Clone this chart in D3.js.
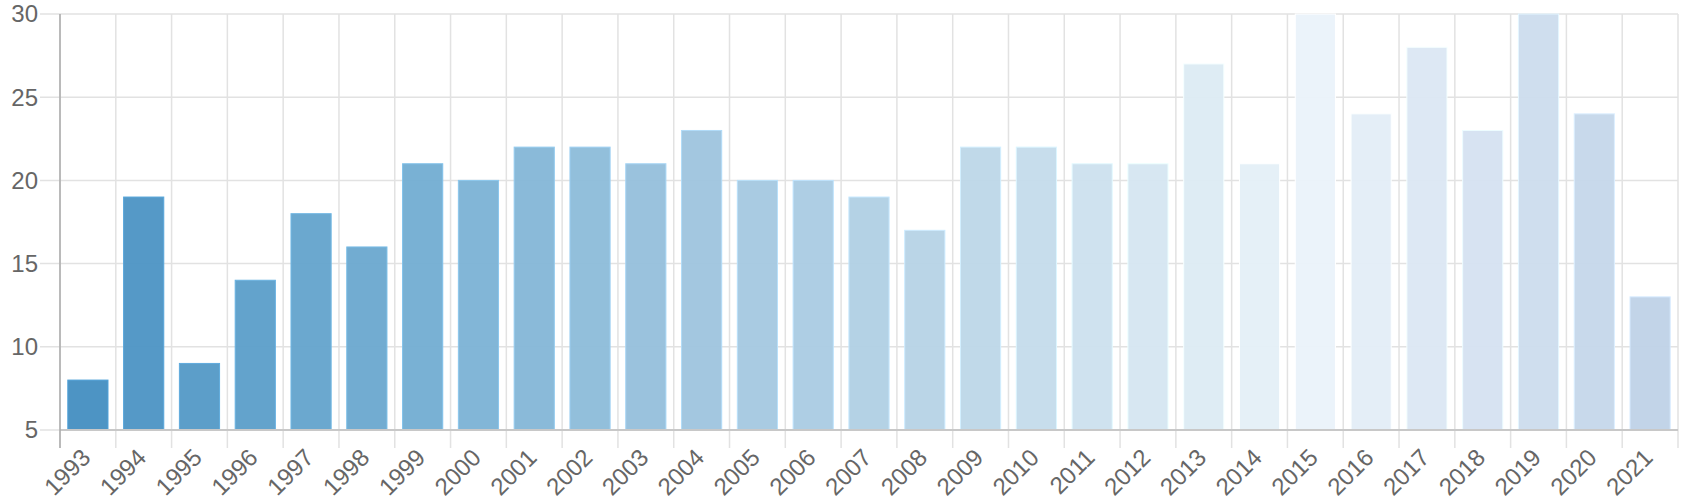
<!DOCTYPE html>
<html>
<head>
<meta charset="utf-8">
<script src="https://cdn.jsdelivr.net/npm/d3@7"></script>
<style>
  html, body { margin: 0; padding: 0; background: #fff; }
  svg { display: block; font-family: "Liberation Sans", Arial, sans-serif; }
</style>
</head>
<body>
<svg id="chart" width="1684" height="500"></svg>
<script>
const years = ["1993","1994","1995","1996","1997","1998","1999","2000","2001","2002","2003","2004","2005","2006","2007","2008","2009","2010","2011","2012","2013","2014","2015","2016","2017","2018","2019","2020","2021"];
const values = [8,19,9,14,18,16,21,20,22,22,21,23,20,20,19,17,22,22,21,21,27,21,30,24,28,23,30,24,13];
const yTicks = [5,10,15,20,25,30];

const W = 1684, H = 500;
const m = {left: 60, right: 6, top: 14, bottom: 70};
const svg = d3.select("#chart");

const x = d3.scaleBand().domain(years).range([m.left, W - m.right]).paddingInner(0.28).paddingOuter(0.14);
const y = d3.scaleLinear().domain([5, 30]).range([H - m.bottom, m.top]);
const step = x.step();
const edge = d => x(d) - step * 0.14;

const color = d3.scaleLinear()
  .domain([0, 6, 11, 16, 20, 22, 28])
  .range(["#4690c2", "#74aed2", "#9fc5df", "#bdd7e8", "#ddebf4", "#eaf2fa", "#bfd2e7"])
  .interpolate(d3.interpolateRgb);

// horizontal grid
svg.append("g").selectAll("line").data(yTicks).join("line")
  .attr("x1", m.left - 20).attr("x2", W - m.right)
  .attr("y1", d => y(d)).attr("y2", d => y(d))
  .attr("stroke", "#e2e2e2").attr("stroke-width", 1.5);

// vertical grid
const vx = years.map(edge).concat([W - m.right]);
svg.append("g").selectAll("line").data(vx).join("line")
  .attr("x1", d => d).attr("x2", d => d)
  .attr("y1", m.top).attr("y2", H - m.bottom + 18)
  .attr("stroke", "#e2e2e2").attr("stroke-width", 1.5);

// bars
svg.append("g").selectAll("rect").data(years).join("rect")
  .attr("x", d => x(d))
  .attr("width", x.bandwidth())
  .attr("y", (d, i) => y(values[i]))
  .attr("height", (d, i) => y(5) - y(values[i]))
  .attr("fill", (d, i) => color(i))
  .attr("fill-opacity", 0.96)
  .attr("stroke", (d, i) => d3.color(color(i)).brighter(0.3))
  .attr("stroke-width", 1);

// bottom axis line
svg.append("line")
  .attr("x1", m.left).attr("x2", W - m.right)
  .attr("y1", y(5)).attr("y2", y(5))
  .attr("stroke", "#c8c8c8").attr("stroke-width", 2);

// left axis line
svg.append("line")
  .attr("x1", m.left).attr("x2", m.left)
  .attr("y1", m.top).attr("y2", H - m.bottom + 18)
  .attr("stroke", "#aaaaaa").attr("stroke-width", 1.5);

// y labels
svg.append("g").selectAll("text").data(yTicks).join("text")
  .attr("x", m.left - 22).attr("y", d => y(d))
  .attr("dy", "0.35em")
  .attr("text-anchor", "end")
  .attr("font-size", 24).attr("fill", "#666")
  .text(d => d);

// x labels
svg.append("g").selectAll("text").data(years).join("text")
  .attr("text-anchor", "end")
  .attr("font-size", 24).attr("fill", "#666")
  .attr("transform", d => `translate(${x(d) + x.bandwidth() / 2 + 4},${y(5) + 29}) rotate(-45)`)
  .text(d => d);
</script>
</body>
</html>
